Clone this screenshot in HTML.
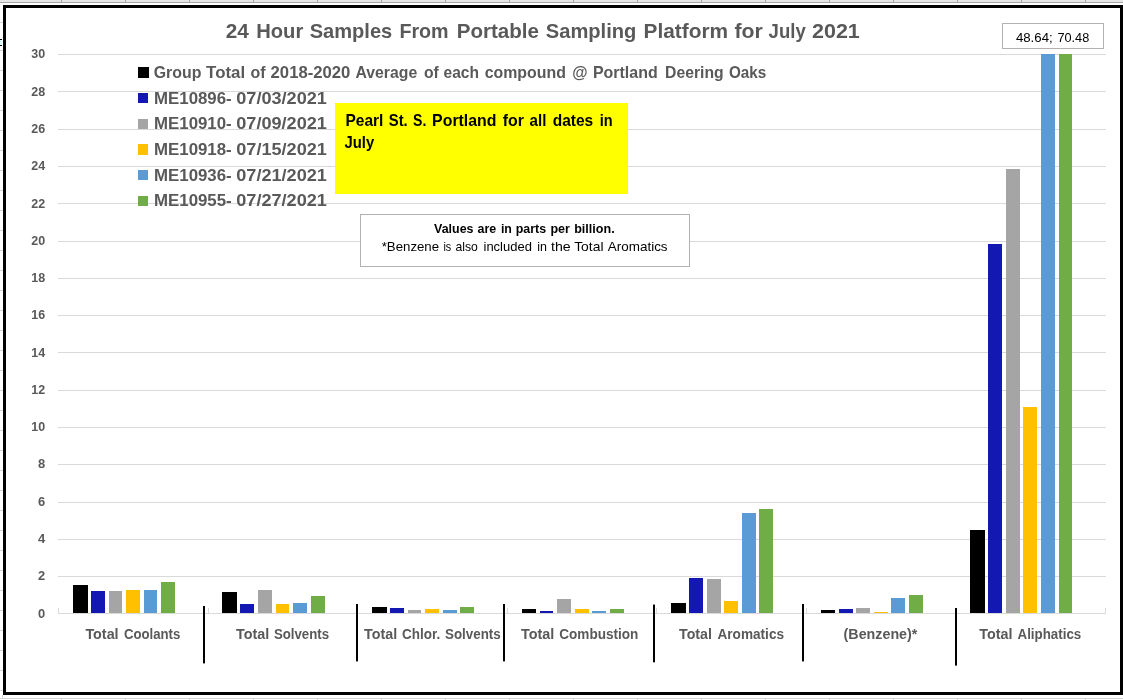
<!DOCTYPE html>
<html><head><meta charset="utf-8"><title>24 Hour Samples</title>
<style>html,body{margin:0;padding:0;background:#fff;overflow:hidden}body{width:1123px;height:700px;position:relative;font-family:"Liberation Sans",sans-serif}svg{position:absolute;left:0;top:0;display:block;will-change:transform;transform:translateZ(0)}text{font-family:"Liberation Sans",sans-serif}.b{font-weight:bold}</style></head><body>
<svg width="1123" height="700" viewBox="0 0 1123 700">
<rect x="0" y="0" width="1123" height="700" fill="#ffffff"/>
<g shape-rendering="crispEdges">
<rect x="0" y="0" width="1123" height="2" fill="#e6e6e6"/>
<rect x="0" y="2" width="1123" height="1" fill="#a6a6a6"/>
<rect x="61" y="0" width="1" height="3" fill="#a6a6a6"/>
<rect x="61" y="698" width="1" height="2" fill="#d4d4d4"/>
<rect x="125" y="0" width="1" height="3" fill="#a6a6a6"/>
<rect x="125" y="698" width="1" height="2" fill="#d4d4d4"/>
<rect x="189" y="0" width="1" height="3" fill="#a6a6a6"/>
<rect x="189" y="698" width="1" height="2" fill="#d4d4d4"/>
<rect x="253" y="0" width="1" height="3" fill="#a6a6a6"/>
<rect x="253" y="698" width="1" height="2" fill="#d4d4d4"/>
<rect x="317" y="0" width="1" height="3" fill="#a6a6a6"/>
<rect x="317" y="698" width="1" height="2" fill="#d4d4d4"/>
<rect x="381" y="0" width="1" height="3" fill="#a6a6a6"/>
<rect x="381" y="698" width="1" height="2" fill="#d4d4d4"/>
<rect x="445" y="0" width="1" height="3" fill="#a6a6a6"/>
<rect x="445" y="698" width="1" height="2" fill="#d4d4d4"/>
<rect x="509" y="0" width="1" height="3" fill="#a6a6a6"/>
<rect x="509" y="698" width="1" height="2" fill="#d4d4d4"/>
<rect x="573" y="0" width="1" height="3" fill="#a6a6a6"/>
<rect x="573" y="698" width="1" height="2" fill="#d4d4d4"/>
<rect x="637" y="0" width="1" height="3" fill="#a6a6a6"/>
<rect x="637" y="698" width="1" height="2" fill="#d4d4d4"/>
<rect x="701" y="0" width="1" height="3" fill="#a6a6a6"/>
<rect x="701" y="698" width="1" height="2" fill="#d4d4d4"/>
<rect x="765" y="0" width="1" height="3" fill="#a6a6a6"/>
<rect x="765" y="698" width="1" height="2" fill="#d4d4d4"/>
<rect x="829" y="0" width="1" height="3" fill="#a6a6a6"/>
<rect x="829" y="698" width="1" height="2" fill="#d4d4d4"/>
<rect x="893" y="0" width="1" height="3" fill="#a6a6a6"/>
<rect x="893" y="698" width="1" height="2" fill="#d4d4d4"/>
<rect x="957" y="0" width="1" height="3" fill="#a6a6a6"/>
<rect x="957" y="698" width="1" height="2" fill="#d4d4d4"/>
<rect x="1021" y="0" width="1" height="3" fill="#a6a6a6"/>
<rect x="1021" y="698" width="1" height="2" fill="#d4d4d4"/>
<rect x="1085" y="0" width="1" height="3" fill="#a6a6a6"/>
<rect x="1085" y="698" width="1" height="2" fill="#d4d4d4"/>
<rect x="0" y="698" width="1123" height="1" fill="#d4d4d4"/>
<rect x="2" y="695" width="1" height="4" fill="#d4d4d4"/>
<rect x="0" y="22" width="3" height="1" fill="#d4d4d4"/>
<rect x="0" y="50" width="3" height="1" fill="#d4d4d4"/>
<rect x="0" y="70" width="3" height="1" fill="#d4d4d4"/>
<rect x="0" y="90" width="3" height="1" fill="#d4d4d4"/>
<rect x="0" y="110" width="3" height="1" fill="#d4d4d4"/>
<rect x="0" y="130" width="3" height="1" fill="#d4d4d4"/>
<rect x="0" y="150" width="3" height="1" fill="#d4d4d4"/>
<rect x="0" y="170" width="3" height="1" fill="#d4d4d4"/>
<rect x="0" y="190" width="3" height="1" fill="#d4d4d4"/>
<rect x="0" y="210" width="3" height="1" fill="#d4d4d4"/>
<rect x="0" y="230" width="3" height="1" fill="#d4d4d4"/>
<rect x="0" y="250" width="3" height="1" fill="#d4d4d4"/>
<rect x="0" y="270" width="3" height="1" fill="#d4d4d4"/>
<rect x="0" y="290" width="3" height="1" fill="#d4d4d4"/>
<rect x="0" y="310" width="3" height="1" fill="#d4d4d4"/>
<rect x="0" y="330" width="3" height="1" fill="#d4d4d4"/>
<rect x="0" y="350" width="3" height="1" fill="#d4d4d4"/>
<rect x="0" y="370" width="3" height="1" fill="#d4d4d4"/>
<rect x="0" y="390" width="3" height="1" fill="#d4d4d4"/>
<rect x="0" y="410" width="3" height="1" fill="#d4d4d4"/>
<rect x="0" y="430" width="3" height="1" fill="#d4d4d4"/>
<rect x="0" y="450" width="3" height="1" fill="#d4d4d4"/>
<rect x="0" y="470" width="3" height="1" fill="#d4d4d4"/>
<rect x="0" y="490" width="3" height="1" fill="#d4d4d4"/>
<rect x="0" y="510" width="3" height="1" fill="#d4d4d4"/>
<rect x="0" y="530" width="3" height="1" fill="#d4d4d4"/>
<rect x="0" y="550" width="3" height="1" fill="#d4d4d4"/>
<rect x="0" y="570" width="3" height="1" fill="#d4d4d4"/>
<rect x="0" y="590" width="3" height="1" fill="#d4d4d4"/>
<rect x="0" y="610" width="3" height="1" fill="#d4d4d4"/>
<rect x="0" y="630" width="3" height="1" fill="#d4d4d4"/>
<rect x="0" y="650" width="3" height="1" fill="#d4d4d4"/>
<rect x="0" y="670" width="3" height="1" fill="#d4d4d4"/>
<rect x="0" y="690" width="3" height="1" fill="#d4d4d4"/>
<rect x="0" y="40" width="2" height="5" fill="#dcfbfb"/><rect x="0" y="39" width="2" height="1" fill="#000"/><rect x="0" y="45" width="2" height="1" fill="#000"/>
<rect x="3" y="5" width="1120" height="3" fill="#000"/>
<rect x="3" y="692" width="1120" height="3" fill="#000"/>
<rect x="3" y="5" width="3" height="690" fill="#000"/>
<rect x="1120" y="5" width="3" height="690" fill="#000"/>
<rect x="58" y="54" width="1048" height="1" fill="#d9d9d9"/>
<rect x="58" y="91" width="1048" height="1" fill="#d9d9d9"/>
<rect x="58" y="129" width="1048" height="1" fill="#d9d9d9"/>
<rect x="58" y="166" width="1048" height="1" fill="#d9d9d9"/>
<rect x="58" y="203" width="1048" height="1" fill="#d9d9d9"/>
<rect x="58" y="241" width="1048" height="1" fill="#d9d9d9"/>
<rect x="58" y="278" width="1048" height="1" fill="#d9d9d9"/>
<rect x="58" y="315" width="1048" height="1" fill="#d9d9d9"/>
<rect x="58" y="352" width="1048" height="1" fill="#d9d9d9"/>
<rect x="58" y="390" width="1048" height="1" fill="#d9d9d9"/>
<rect x="58" y="427" width="1048" height="1" fill="#d9d9d9"/>
<rect x="58" y="464" width="1048" height="1" fill="#d9d9d9"/>
<rect x="58" y="502" width="1048" height="1" fill="#d9d9d9"/>
<rect x="58" y="539" width="1048" height="1" fill="#d9d9d9"/>
<rect x="58" y="576" width="1048" height="1" fill="#d9d9d9"/>
<rect x="58" y="613" width="1048" height="1" fill="#d9d9d9"/>
<rect x="58" y="608" width="1" height="5" fill="#d9d9d9"/>
<rect x="208" y="608" width="1" height="5" fill="#d9d9d9"/>
<rect x="357" y="608" width="1" height="5" fill="#d9d9d9"/>
<rect x="507" y="608" width="1" height="5" fill="#d9d9d9"/>
<rect x="656" y="608" width="1" height="5" fill="#d9d9d9"/>
<rect x="806" y="608" width="1" height="5" fill="#d9d9d9"/>
<rect x="955" y="608" width="1" height="5" fill="#d9d9d9"/>
<rect x="1105" y="608" width="1" height="5" fill="#d9d9d9"/>
</g>
<g shape-rendering="crispEdges">
<rect x="73" y="585" width="15" height="28" fill="#000000"/>
<rect x="91" y="591" width="14" height="22" fill="#1418b2"/>
<rect x="109" y="591" width="13" height="22" fill="#a5a5a5"/>
<rect x="126" y="590" width="14" height="23" fill="#ffc000"/>
<rect x="144" y="590" width="13" height="23" fill="#5b9bd5"/>
<rect x="161" y="582" width="14" height="31" fill="#70ad47"/>
<rect x="222" y="592" width="15" height="21" fill="#000000"/>
<rect x="240" y="604" width="14" height="9" fill="#1418b2"/>
<rect x="258" y="590" width="14" height="23" fill="#a5a5a5"/>
<rect x="276" y="604" width="13" height="9" fill="#ffc000"/>
<rect x="293" y="603" width="14" height="10" fill="#5b9bd5"/>
<rect x="311" y="596" width="14" height="17" fill="#70ad47"/>
<rect x="372" y="607" width="15" height="6" fill="#000000"/>
<rect x="390" y="608" width="14" height="5" fill="#1418b2"/>
<rect x="408" y="610" width="13" height="3" fill="#a5a5a5"/>
<rect x="425" y="609" width="14" height="4" fill="#ffc000"/>
<rect x="443" y="610" width="14" height="3" fill="#5b9bd5"/>
<rect x="460" y="607" width="14" height="6" fill="#70ad47"/>
<rect x="522" y="609" width="14" height="4" fill="#000000"/>
<rect x="540" y="611" width="13" height="2" fill="#1418b2"/>
<rect x="557" y="599" width="14" height="14" fill="#a5a5a5"/>
<rect x="575" y="609" width="14" height="4" fill="#ffc000"/>
<rect x="592" y="611" width="14" height="2" fill="#5b9bd5"/>
<rect x="610" y="609" width="14" height="4" fill="#70ad47"/>
<rect x="671" y="603" width="15" height="10" fill="#000000"/>
<rect x="689" y="578" width="14" height="35" fill="#1418b2"/>
<rect x="707" y="579" width="14" height="34" fill="#a5a5a5"/>
<rect x="724" y="601" width="14" height="12" fill="#ffc000"/>
<rect x="742" y="513" width="14" height="100" fill="#5b9bd5"/>
<rect x="759" y="509" width="14" height="104" fill="#70ad47"/>
<rect x="821" y="610" width="14" height="3" fill="#000000"/>
<rect x="839" y="609" width="14" height="4" fill="#1418b2"/>
<rect x="856" y="608" width="14" height="5" fill="#a5a5a5"/>
<rect x="874" y="612" width="14" height="1" fill="#ffc000"/>
<rect x="891" y="598" width="14" height="15" fill="#5b9bd5"/>
<rect x="909" y="595" width="14" height="18" fill="#70ad47"/>
<rect x="970" y="530" width="15" height="83" fill="#000000"/>
<rect x="988" y="244" width="14" height="369" fill="#1418b2"/>
<rect x="1006" y="169" width="14" height="444" fill="#a5a5a5"/>
<rect x="1023" y="407" width="14" height="206" fill="#ffc000"/>
<rect x="1041" y="54" width="14" height="559" fill="#5b9bd5"/>
<rect x="1059" y="54" width="13" height="559" fill="#70ad47"/>
</g>
<rect x="203" y="606" width="2" height="57.4" fill="#000"/>
<rect x="356" y="604" width="2" height="57.4" fill="#000"/>
<rect x="503" y="604" width="2" height="57.4" fill="#000"/>
<rect x="653" y="604.6" width="2" height="57.7" fill="#000"/>
<rect x="802" y="604" width="2" height="57.4" fill="#000"/>
<rect x="955" y="608" width="2" height="57.6" fill="#000"/>
<text x="31.20" y="58.4" font-size="12" class="b" fill="#595959" textLength="13.90" lengthAdjust="spacingAndGlyphs">30</text>
<text x="31.20" y="95.7" font-size="12" class="b" fill="#595959" textLength="13.90" lengthAdjust="spacingAndGlyphs">28</text>
<text x="31.20" y="132.9" font-size="12" class="b" fill="#595959" textLength="13.90" lengthAdjust="spacingAndGlyphs">26</text>
<text x="31.20" y="170.2" font-size="12" class="b" fill="#595959" textLength="13.90" lengthAdjust="spacingAndGlyphs">24</text>
<text x="31.20" y="207.5" font-size="12" class="b" fill="#595959" textLength="13.90" lengthAdjust="spacingAndGlyphs">22</text>
<text x="31.20" y="244.8" font-size="12" class="b" fill="#595959" textLength="13.90" lengthAdjust="spacingAndGlyphs">20</text>
<text x="31.20" y="282.0" font-size="12" class="b" fill="#595959" textLength="13.90" lengthAdjust="spacingAndGlyphs">18</text>
<text x="31.20" y="319.3" font-size="12" class="b" fill="#595959" textLength="13.90" lengthAdjust="spacingAndGlyphs">16</text>
<text x="31.20" y="356.6" font-size="12" class="b" fill="#595959" textLength="13.90" lengthAdjust="spacingAndGlyphs">14</text>
<text x="31.20" y="393.8" font-size="12" class="b" fill="#595959" textLength="13.90" lengthAdjust="spacingAndGlyphs">12</text>
<text x="31.20" y="431.1" font-size="12" class="b" fill="#595959" textLength="13.90" lengthAdjust="spacingAndGlyphs">10</text>
<text x="38.00" y="468.4" font-size="12" class="b" fill="#595959" textLength="7.20" lengthAdjust="spacingAndGlyphs">8</text>
<text x="38.00" y="505.6" font-size="12" class="b" fill="#595959" textLength="7.20" lengthAdjust="spacingAndGlyphs">6</text>
<text x="38.00" y="542.9" font-size="12" class="b" fill="#595959" textLength="7.20" lengthAdjust="spacingAndGlyphs">4</text>
<text x="38.00" y="580.2" font-size="12" class="b" fill="#595959" textLength="7.20" lengthAdjust="spacingAndGlyphs">2</text>
<text x="38.00" y="617.5" font-size="12" class="b" fill="#595959" textLength="7.20" lengthAdjust="spacingAndGlyphs">0</text>
<text x="225.80" y="38.1" font-size="21.0" class="b" fill="#595959" textLength="23.11" lengthAdjust="spacingAndGlyphs">24</text>
<text x="256.20" y="38.1" font-size="21.0" class="b" fill="#595959" textLength="47.10" lengthAdjust="spacingAndGlyphs">Hour</text>
<text x="309.70" y="38.1" font-size="21.0" class="b" fill="#595959" textLength="82.51" lengthAdjust="spacingAndGlyphs">Samples</text>
<text x="399.40" y="38.1" font-size="21.0" class="b" fill="#595959" textLength="49.20" lengthAdjust="spacingAndGlyphs">From</text>
<text x="456.70" y="38.1" font-size="21.0" class="b" fill="#595959" textLength="82.20" lengthAdjust="spacingAndGlyphs">Portable</text>
<text x="545.80" y="38.1" font-size="21.0" class="b" fill="#595959" textLength="90.59" lengthAdjust="spacingAndGlyphs">Sampling</text>
<text x="643.60" y="38.1" font-size="21.0" class="b" fill="#595959" textLength="84.50" lengthAdjust="spacingAndGlyphs">Platform</text>
<text x="734.50" y="38.1" font-size="21.0" class="b" fill="#595959" textLength="28.30" lengthAdjust="spacingAndGlyphs">for</text>
<text x="768.60" y="38.1" font-size="21.0" class="b" fill="#595959" textLength="37.10" lengthAdjust="spacingAndGlyphs">July</text>
<text x="812.00" y="38.1" font-size="21.0" class="b" fill="#595959" textLength="47.79" lengthAdjust="spacingAndGlyphs">2021</text>
<text x="85.40" y="639" font-size="14.0" class="b" fill="#595959" textLength="33.21" lengthAdjust="spacingAndGlyphs">Total</text>
<text x="123.90" y="639" font-size="14.0" class="b" fill="#595959" textLength="56.40" lengthAdjust="spacingAndGlyphs">Coolants</text>
<text x="236.00" y="639" font-size="14.0" class="b" fill="#595959" textLength="33.31" lengthAdjust="spacingAndGlyphs">Total</text>
<text x="273.90" y="639" font-size="14.0" class="b" fill="#595959" textLength="55.10" lengthAdjust="spacingAndGlyphs">Solvents</text>
<text x="364.00" y="639" font-size="14.0" class="b" fill="#595959" textLength="33.11" lengthAdjust="spacingAndGlyphs">Total</text>
<text x="402.10" y="639" font-size="14.0" class="b" fill="#595959" textLength="38.19" lengthAdjust="spacingAndGlyphs">Chlor.</text>
<text x="445.00" y="639" font-size="14.0" class="b" fill="#595959" textLength="55.70" lengthAdjust="spacingAndGlyphs">Solvents</text>
<text x="521.00" y="639" font-size="14.0" class="b" fill="#595959" textLength="33.31" lengthAdjust="spacingAndGlyphs">Total</text>
<text x="559.30" y="639" font-size="14.0" class="b" fill="#595959" textLength="78.99" lengthAdjust="spacingAndGlyphs">Combustion</text>
<text x="679.10" y="639" font-size="14.0" class="b" fill="#595959" textLength="32.81" lengthAdjust="spacingAndGlyphs">Total</text>
<text x="717.50" y="639" font-size="14.0" class="b" fill="#595959" textLength="66.50" lengthAdjust="spacingAndGlyphs">Aromatics</text>
<text x="843.60" y="639" font-size="14.0" class="b" fill="#595959" textLength="73.79" lengthAdjust="spacingAndGlyphs">(Benzene)*</text>
<text x="979.30" y="639" font-size="14.0" class="b" fill="#595959" textLength="33.21" lengthAdjust="spacingAndGlyphs">Total</text>
<text x="1017.50" y="639" font-size="14.0" class="b" fill="#595959" textLength="63.80" lengthAdjust="spacingAndGlyphs">Aliphatics</text>
<g shape-rendering="crispEdges">
<rect x="138" y="67" width="11" height="11" fill="#000000"/>
<rect x="138" y="93" width="10" height="10" fill="#1418b2"/>
<rect x="138" y="119" width="10" height="10" fill="#a5a5a5"/>
<rect x="138" y="144" width="10" height="11" fill="#ffc000"/>
<rect x="138" y="170" width="10" height="10" fill="#5b9bd5"/>
<rect x="138" y="196" width="10" height="10" fill="#70ad47"/>
</g>
<text x="153.70" y="77.7" font-size="16.2" class="b" fill="#595959" textLength="47.69" lengthAdjust="spacingAndGlyphs">Group</text>
<text x="206.10" y="77.7" font-size="16.2" class="b" fill="#595959" textLength="39.01" lengthAdjust="spacingAndGlyphs">Total</text>
<text x="250.40" y="77.7" font-size="16.2" class="b" fill="#595959" textLength="15.07" lengthAdjust="spacingAndGlyphs">of</text>
<text x="270.60" y="77.7" font-size="16.2" class="b" fill="#595959" textLength="79.80" lengthAdjust="spacingAndGlyphs">2018-2020</text>
<text x="355.40" y="77.7" font-size="16.2" class="b" fill="#595959" textLength="61.80" lengthAdjust="spacingAndGlyphs">Average</text>
<text x="423.90" y="77.7" font-size="16.2" class="b" fill="#595959" textLength="14.87" lengthAdjust="spacingAndGlyphs">of</text>
<text x="443.50" y="77.7" font-size="16.2" class="b" fill="#595959" textLength="35.40" lengthAdjust="spacingAndGlyphs">each</text>
<text x="484.70" y="77.7" font-size="16.2" class="b" fill="#595959" textLength="81.21" lengthAdjust="spacingAndGlyphs">compound</text>
<text x="572.20" y="77.7" font-size="16.2" class="b" fill="#595959" textLength="15.30" lengthAdjust="spacingAndGlyphs">@</text>
<text x="592.90" y="77.7" font-size="16.2" class="b" fill="#595959" textLength="64.80" lengthAdjust="spacingAndGlyphs">Portland</text>
<text x="665.10" y="77.7" font-size="16.2" class="b" fill="#595959" textLength="58.50" lengthAdjust="spacingAndGlyphs">Deering</text>
<text x="728.90" y="77.7" font-size="16.2" class="b" fill="#595959" textLength="37.30" lengthAdjust="spacingAndGlyphs">Oaks</text>
<text x="154.00" y="103.8" font-size="16.2" class="b" fill="#595959" textLength="77.70" lengthAdjust="spacingAndGlyphs">ME10896-</text>
<text x="236.30" y="103.8" font-size="16.2" class="b" fill="#595959" textLength="90.60" lengthAdjust="spacingAndGlyphs">07/03/2021</text>
<text x="154.00" y="129.1" font-size="16.2" class="b" fill="#595959" textLength="77.70" lengthAdjust="spacingAndGlyphs">ME10910-</text>
<text x="236.30" y="129.1" font-size="16.2" class="b" fill="#595959" textLength="90.60" lengthAdjust="spacingAndGlyphs">07/09/2021</text>
<text x="154.00" y="154.7" font-size="16.2" class="b" fill="#595959" textLength="77.70" lengthAdjust="spacingAndGlyphs">ME10918-</text>
<text x="236.30" y="154.7" font-size="16.2" class="b" fill="#595959" textLength="90.60" lengthAdjust="spacingAndGlyphs">07/15/2021</text>
<text x="154.00" y="180.5" font-size="16.2" class="b" fill="#595959" textLength="77.70" lengthAdjust="spacingAndGlyphs">ME10936-</text>
<text x="236.30" y="180.5" font-size="16.2" class="b" fill="#595959" textLength="90.60" lengthAdjust="spacingAndGlyphs">07/21/2021</text>
<text x="154.00" y="205.7" font-size="16.2" class="b" fill="#595959" textLength="77.70" lengthAdjust="spacingAndGlyphs">ME10955-</text>
<text x="236.30" y="205.7" font-size="16.2" class="b" fill="#595959" textLength="90.60" lengthAdjust="spacingAndGlyphs">07/27/2021</text>
<rect x="335" y="103" width="293" height="91" fill="#ffff00" shape-rendering="crispEdges"/>
<text x="345.50" y="125.5" font-size="16.2" class="b" fill="#000" textLength="37.90" lengthAdjust="spacingAndGlyphs">Pearl</text>
<text x="388.80" y="125.5" font-size="16.2" class="b" fill="#000" textLength="18.90" lengthAdjust="spacingAndGlyphs">St.</text>
<text x="413.00" y="125.5" font-size="16.2" class="b" fill="#000" textLength="13.30" lengthAdjust="spacingAndGlyphs">S.</text>
<text x="432.10" y="125.5" font-size="16.2" class="b" fill="#000" textLength="64.40" lengthAdjust="spacingAndGlyphs">Portland</text>
<text x="502.80" y="125.5" font-size="16.2" class="b" fill="#000" textLength="21.20" lengthAdjust="spacingAndGlyphs">for</text>
<text x="529.60" y="125.5" font-size="16.2" class="b" fill="#000" textLength="16.80" lengthAdjust="spacingAndGlyphs">all</text>
<text x="552.70" y="125.5" font-size="16.2" class="b" fill="#000" textLength="40.51" lengthAdjust="spacingAndGlyphs">dates</text>
<text x="599.70" y="125.5" font-size="16.2" class="b" fill="#000" textLength="12.90" lengthAdjust="spacingAndGlyphs">in</text>
<text x="344.50" y="148.2" font-size="16.2" class="b" fill="#000" textLength="29.70" lengthAdjust="spacingAndGlyphs">July</text>
<rect x="360.5" y="214.5" width="329" height="52" fill="#fff" stroke="#b2b2b2" stroke-width="1" shape-rendering="crispEdges"/>
<text x="434.10" y="233.1" font-size="13" class="b" fill="#000" textLength="39.40" lengthAdjust="spacingAndGlyphs">Values</text>
<text x="477.50" y="233.1" font-size="13" class="b" fill="#000" textLength="18.71" lengthAdjust="spacingAndGlyphs">are</text>
<text x="500.90" y="233.1" font-size="13" class="b" fill="#000" textLength="11.00" lengthAdjust="spacingAndGlyphs">in</text>
<text x="515.70" y="233.1" font-size="13" class="b" fill="#000" textLength="30.40" lengthAdjust="spacingAndGlyphs">parts</text>
<text x="550.40" y="233.1" font-size="13" class="b" fill="#000" textLength="19.50" lengthAdjust="spacingAndGlyphs">per</text>
<text x="574.20" y="233.1" font-size="13" class="b" fill="#000" textLength="40.50" lengthAdjust="spacingAndGlyphs">billion.</text>
<text x="381.70" y="251.0" font-size="12.6" fill="#000" textLength="57.40" lengthAdjust="spacingAndGlyphs">*Benzene</text>
<text x="443.40" y="251.0" font-size="12.6" fill="#000" textLength="7.80" lengthAdjust="spacingAndGlyphs">is</text>
<text x="455.50" y="251.0" font-size="12.6" fill="#000" textLength="22.41" lengthAdjust="spacingAndGlyphs">also</text>
<text x="483.50" y="251.0" font-size="12.6" fill="#000" textLength="48.40" lengthAdjust="spacingAndGlyphs">included</text>
<text x="537.30" y="251.0" font-size="12.6" fill="#000" textLength="9.70" lengthAdjust="spacingAndGlyphs">in</text>
<text x="551.00" y="251.0" font-size="12.6" fill="#000" textLength="19.70" lengthAdjust="spacingAndGlyphs">the</text>
<text x="574.20" y="251.0" font-size="12.6" fill="#000" textLength="29.30" lengthAdjust="spacingAndGlyphs">Total</text>
<text x="607.80" y="251.0" font-size="12.6" fill="#000" textLength="59.80" lengthAdjust="spacingAndGlyphs">Aromatics</text>
<rect x="1002.5" y="23.5" width="101" height="25" fill="#fff" stroke="#b2b2b2" stroke-width="1" shape-rendering="crispEdges"/>
<text x="1015.90" y="41.7" font-size="12.6" fill="#000" textLength="36.80" lengthAdjust="spacingAndGlyphs">48.64;</text>
<text x="1057.40" y="41.7" font-size="12.6" fill="#000" textLength="31.81" lengthAdjust="spacingAndGlyphs">70.48</text>
</svg></body></html>
